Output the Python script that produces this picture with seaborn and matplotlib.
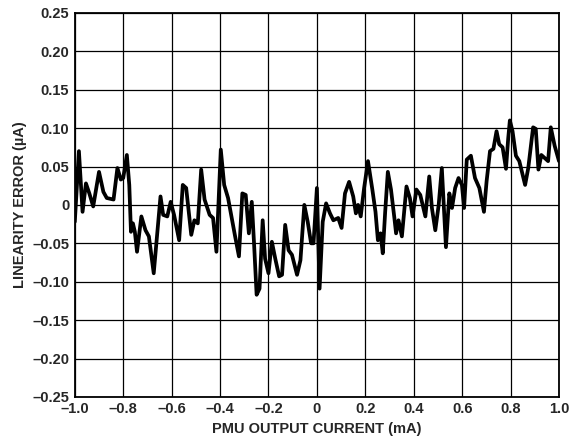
import numpy as np
import pandas as pd
import seaborn as sns
import matplotlib
matplotlib.use("Agg")
import matplotlib.pyplot as plt

# output current (mA) and linearity error (uA)
current = [
    -1.0, -0.983, -0.968, -0.954, -0.94, -0.924, -0.9, -0.882, -0.868, -0.854,
    -0.84, -0.824, -0.81, -0.8, -0.785, -0.775, -0.768, -0.76, -0.752, -0.743,
    -0.725, -0.708, -0.694, -0.674, -0.66, -0.646, -0.635, -0.618, -0.604, -0.59,
    -0.569, -0.554, -0.54, -0.519, -0.506, -0.492, -0.478, -0.464, -0.443, -0.429,
    -0.415, -0.397, -0.383, -0.367, -0.353, -0.339, -0.322, -0.308, -0.294, -0.281,
    -0.269, -0.26, -0.249, -0.237, -0.224, -0.214, -0.2, -0.186, -0.172, -0.156,
    -0.144, -0.131, -0.117, -0.103, -0.082, -0.068, -0.052, -0.038, -0.024, -0.014,
    0.0, 0.011, 0.024, 0.038, 0.054, 0.068, 0.088, 0.102, 0.116, 0.133,
    0.15, 0.161, 0.17, 0.181, 0.195, 0.211, 0.229, 0.242, 0.252, 0.263,
    0.272, 0.282, 0.293, 0.306, 0.32, 0.327, 0.337, 0.351, 0.37, 0.384,
    0.395, 0.411, 0.427, 0.448, 0.464, 0.475, 0.489, 0.503, 0.516, 0.526,
    0.533, 0.547, 0.558, 0.571, 0.585, 0.599, 0.608, 0.619, 0.636, 0.653,
    0.671, 0.69, 0.701, 0.715, 0.729, 0.742, 0.753, 0.767, 0.781, 0.79,
    0.797, 0.808, 0.822, 0.836, 0.86, 0.873, 0.893, 0.904, 0.915, 0.927,
    0.941, 0.955, 0.966, 0.982, 1.0,
]
error = [
    -0.022, 0.07, -0.009, 0.028, 0.015, -0.002, 0.043, 0.017, 0.009, 0.008,
    0.007, 0.048, 0.033, 0.035, 0.065, 0.026, -0.035, -0.024, -0.035, -0.061,
    -0.015, -0.033, -0.041, -0.089, -0.039, 0.011, -0.013, -0.015, 0.004, -0.013,
    -0.046, 0.026, 0.022, -0.039, -0.02, -0.024, 0.046, 0.007, -0.013, -0.017,
    -0.061, 0.072, 0.026, 0.009, -0.015, -0.039, -0.067, 0.015, 0.013, -0.037,
    0.004, -0.048, -0.117, -0.109, -0.02, -0.07, -0.089, -0.048, -0.07, -0.093,
    -0.091, -0.026, -0.059, -0.065, -0.091, -0.072, 0.0, -0.022, -0.05, -0.05,
    0.022, -0.109, -0.022, 0.002, -0.011, -0.02, -0.017, -0.03, 0.015, 0.03,
    0.011, -0.011, 0.0, -0.015, 0.022, 0.057, 0.02, -0.009, -0.046, -0.037,
    -0.063, -0.009, 0.043, 0.02, -0.017, -0.037, -0.02, -0.041, 0.024, 0.009,
    -0.015, 0.02, 0.013, -0.015, 0.037, -0.004, -0.033, 0.0, 0.048, -0.013,
    -0.055, 0.015, -0.004, 0.022, 0.035, 0.026, -0.004, 0.059, 0.064, 0.035,
    0.022, -0.009, 0.031, 0.07, 0.073, 0.096, 0.079, 0.075, 0.047, 0.086,
    0.11, 0.096, 0.064, 0.057, 0.026, 0.048, 0.101, 0.099, 0.046, 0.065,
    0.061, 0.057, 0.101, 0.077, 0.057,
]

x_ticks = [-1.0, -0.8, -0.6, -0.4, -0.2, 0.0, 0.2, 0.4, 0.6, 0.8, 1.0]
x_labels = ["–1.0", "–0.8", "–0.6", "–0.4", "–0.2", "0", "0.2", "0.4", "0.6", "0.8", "1.0"]
y_ticks = [0.25, 0.20, 0.15, 0.10, 0.05, 0.0, -0.05, -0.10, -0.15, -0.20, -0.25]
y_labels = ["0.25", "0.20", "0.15", "0.10", "0.05", "0", "–0.05", "–0.10", "–0.15", "–0.20", "–0.25"]

df = pd.DataFrame({"current": current, "error": error})

sns.set_style("white")
plt.rcParams["font.family"] = ["Liberation Sans", "DejaVu Sans"]
plt.rcParams["font.weight"] = "bold"

fig, ax = plt.subplots(figsize=(5.71, 4.44), dpi=100)
fig.subplots_adjust(left=0.131, right=0.979, top=0.971, bottom=0.106)

sns.lineplot(data=df, x="current", y="error", sort=False, color="black",
             linewidth=2.7, solid_joinstyle="round", solid_capstyle="round",
             ax=ax, zorder=3)

ax.set_xlim(-1.0, 1.0)
ax.set_ylim(-0.25, 0.25)
ax.set_xticks(x_ticks)
ax.set_xticklabels(x_labels, fontsize=10.5, fontweight="bold")
ax.set_yticks(y_ticks)
ax.set_yticklabels(y_labels, fontsize=10.5, fontweight="bold")
ax.tick_params(length=0, pad=4)
ax.grid(True, color="black", linewidth=0.9)

for s in ax.spines.values():
    s.set_color("black")
    s.set_linewidth(1.3)

ax.set_xlabel("PMU OUTPUT CURRENT (mA)", fontsize=10.5, fontweight="bold", labelpad=4)
ax.set_ylabel("LINEARITY ERROR (µA)", fontsize=10.5, fontweight="bold", labelpad=4)

fig.savefig("out.png", dpi=100)
